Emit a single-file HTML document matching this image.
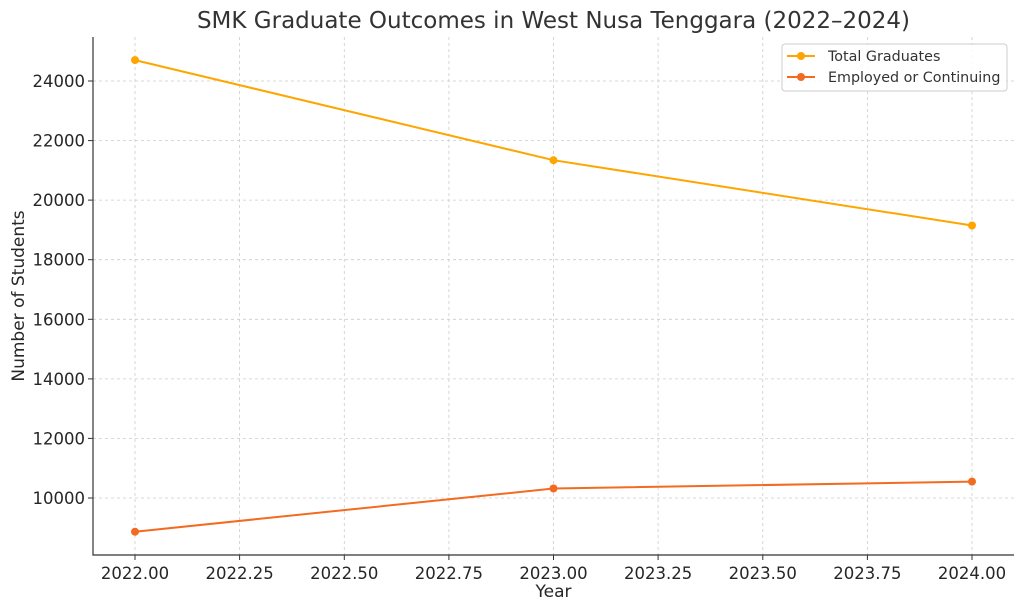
<!DOCTYPE html>
<html><head><style>body{margin:0;background:#fff}svg{display:block}text{font-family:"DejaVu Sans","Liberation Sans",sans-serif;fill:#262626}</style></head>
<body>
<svg width="1024" height="611" viewBox="0 0 1024 611" xmlns="http://www.w3.org/2000/svg">
<rect width="1024" height="611" fill="#fff"/>
<g stroke="#ccc" stroke-width="0.8" stroke-dasharray="3,3">
<line x1="135" y1="37" x2="135" y2="555"/><line x1="239.6" y1="37" x2="239.6" y2="555"/><line x1="344.3" y1="37" x2="344.3" y2="555"/><line x1="448.9" y1="37" x2="448.9" y2="555"/><line x1="553.5" y1="37" x2="553.5" y2="555"/><line x1="658.1" y1="37" x2="658.1" y2="555"/><line x1="762.8" y1="37" x2="762.8" y2="555"/><line x1="867.4" y1="37" x2="867.4" y2="555"/><line x1="972" y1="37" x2="972" y2="555"/>
<line x1="93" y1="81" x2="1014" y2="81"/><line x1="93" y1="140.6" x2="1014" y2="140.6"/><line x1="93" y1="200.1" x2="1014" y2="200.1"/><line x1="93" y1="259.7" x2="1014" y2="259.7"/><line x1="93" y1="319.3" x2="1014" y2="319.3"/><line x1="93" y1="378.9" x2="1014" y2="378.9"/><line x1="93" y1="438.4" x2="1014" y2="438.4"/><line x1="93" y1="498" x2="1014" y2="498"/>
</g>
<path d="M93 37V555H1014" fill="none" stroke="#333" stroke-width="1.2"/>
<g stroke="#333"><line x1="135" y1="555" x2="135" y2="560"/><line x1="239.6" y1="555" x2="239.6" y2="560"/><line x1="344.3" y1="555" x2="344.3" y2="560"/><line x1="448.9" y1="555" x2="448.9" y2="560"/><line x1="553.5" y1="555" x2="553.5" y2="560"/><line x1="658.1" y1="555" x2="658.1" y2="560"/><line x1="762.8" y1="555" x2="762.8" y2="560"/><line x1="867.4" y1="555" x2="867.4" y2="560"/><line x1="972" y1="555" x2="972" y2="560"/>
<line x1="88" y1="81" x2="93" y2="81"/><line x1="88" y1="140.6" x2="93" y2="140.6"/><line x1="88" y1="200.1" x2="93" y2="200.1"/><line x1="88" y1="259.7" x2="93" y2="259.7"/><line x1="88" y1="319.3" x2="93" y2="319.3"/><line x1="88" y1="378.9" x2="93" y2="378.9"/><line x1="88" y1="438.4" x2="93" y2="438.4"/><line x1="88" y1="498" x2="93" y2="498"/></g>
<g font-size="16.5" text-anchor="middle">
<text x="135" y="579">2022.00</text><text x="239.6" y="579">2022.25</text><text x="344.3" y="579">2022.50</text><text x="448.9" y="579">2022.75</text><text x="553.5" y="579">2023.00</text><text x="658.1" y="579">2023.25</text><text x="762.8" y="579">2023.50</text><text x="867.4" y="579">2023.75</text><text x="972" y="579">2024.00</text>
</g>
<g font-size="16.5" text-anchor="end">
<text x="85" y="87">24000</text><text x="85" y="146.6">22000</text><text x="85" y="206.1">20000</text><text x="85" y="265.7">18000</text><text x="85" y="325.3">16000</text><text x="85" y="384.9">14000</text><text x="85" y="444.4">12000</text><text x="85" y="504">10000</text>
</g>
<text x="553.5" y="597" font-size="17" text-anchor="middle">Year</text>
<text transform="translate(24,296) rotate(-90)" font-size="17" text-anchor="middle">Number of Students</text>
<text x="553.5" y="28" font-size="23" text-anchor="middle" style="fill:#333">SMK Graduate Outcomes in West Nusa Tenggara (2022–2024)</text>
<polyline points="135,60.1 553.5,160.2 972,225.5" fill="none" stroke="#ffa500" stroke-width="2"/>
<polyline points="135,531.7 553.5,488.5 972,481.6" fill="none" stroke="#f26b21" stroke-width="2"/>
<g fill="#ffa500"><circle cx="135" cy="60.1" r="4"/><circle cx="553.5" cy="160.2" r="4"/><circle cx="972" cy="225.5" r="4"/></g>
<g fill="#f26b21"><circle cx="135" cy="531.7" r="4"/><circle cx="553.5" cy="488.5" r="4"/><circle cx="972" cy="481.6" r="4"/></g>
<rect x="782" y="44" width="225" height="47" rx="3" fill="#fff" fill-opacity="0.85" stroke="#ccc"/>
<line x1="787" y1="56" x2="815" y2="56" stroke="#ffa500" stroke-width="2"/><circle cx="801" cy="56" r="4" fill="#ffa500"/>
<line x1="787" y1="77" x2="815" y2="77" stroke="#f26b21" stroke-width="2"/><circle cx="801" cy="77" r="4" fill="#f26b21"/>
<text x="828" y="61" font-size="14.3" style="fill:#333">Total Graduates</text>
<text x="828" y="82" font-size="14.3" style="fill:#333">Employed or Continuing</text>
</svg>
</body></html>
